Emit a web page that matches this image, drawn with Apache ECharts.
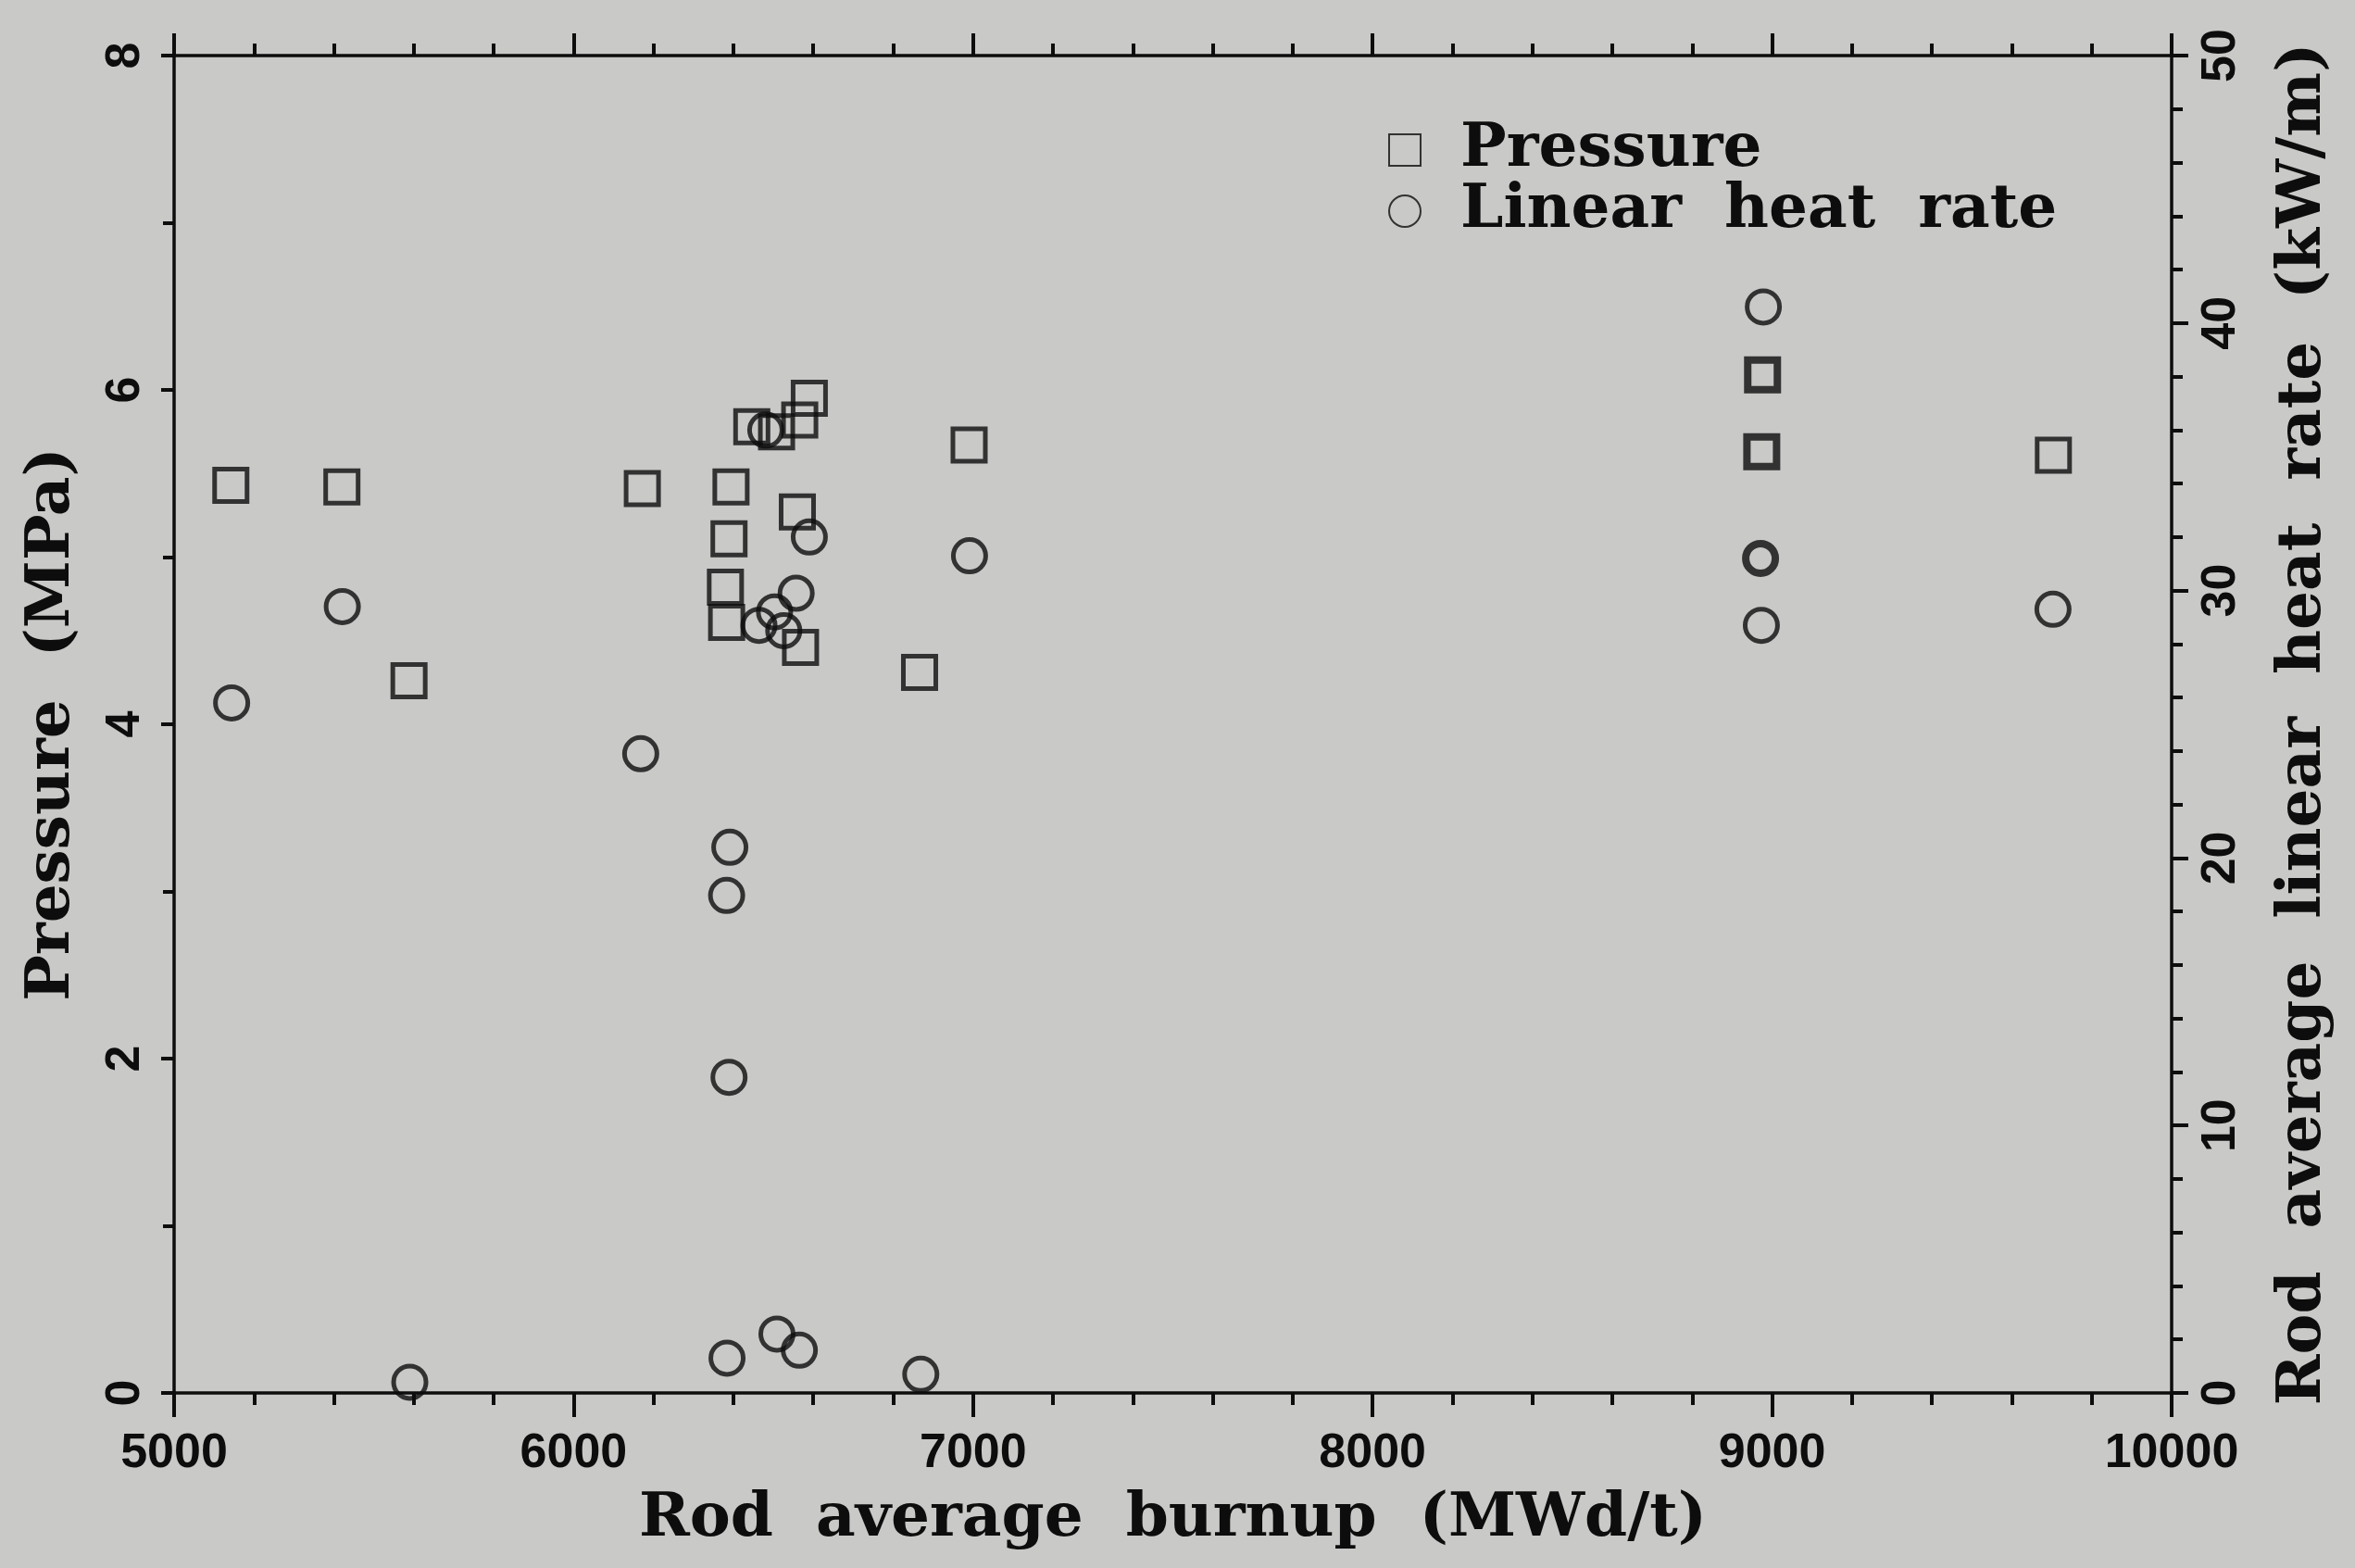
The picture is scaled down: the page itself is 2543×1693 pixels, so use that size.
<!DOCTYPE html>
<html>
<head>
<meta charset="utf-8">
<script src="https://cdn.jsdelivr.net/npm/echarts@6/dist/echarts.min.js"></script>
<style>
  html, body { margin: 0; padding: 0; background: #c9c9c7; }
  #chart { width: 2543px; height: 1693px; }
</style>
</head>
<body>
<div id="chart"></div>
<script>
// ---- Data ----
const pressureBurnup = [5142, 5420, 5588, 6172, 6394, 6389, 6380, 6383, 6446, 6508, 6566, 6590, 6560, 6568, 6866, 6990, 8976, 8974, 9704];
const pressureMPa    = [5.43, 5.42, 4.26, 5.41, 5.42, 5.11, 4.82, 4.61, 5.78, 5.75, 5.82, 5.95, 5.27, 4.46, 4.31, 5.67, 6.09, 5.63, 5.61];
const heatBurnup     = [5144, 5421, 5590, 6168, 6391, 6383, 6389, 6384, 6509, 6565, 6869, 6481, 6590, 6557, 6464, 6503, 6526, 6991, 8978, 8971, 8973, 9703];
const heatRate       = [25.8, 29.4, 0.4, 23.9, 20.4, 18.6, 11.8, 1.3, 2.2, 1.6, 0.7, 36.0, 32.0, 29.9, 28.7, 29.2, 28.5, 31.3, 40.6, 31.2, 28.7, 29.3];
// points drawn with a heavier outline in the reference
const pressureBoldIdx = [16, 17];
const heatBoldIdx     = [19];

const xTicks = { min: 5000, max: 10000, step: 1000 };
const yLeft  = { min: 0, max: 8, step: 2 };
const yRight = { min: 0, max: 50, step: 10 };

const INK = '#0d0d0d';
const SERIF = "'DejaVu Serif', 'Liberation Serif', serif";
const SANS = "'Liberation Sans', Arial, sans-serif";

function buildPoints(xs, ys, boldIdx) {
  return xs.map((x, i) => {
    const item = { value: [x, ys[i]] };
    if (boldIdx.indexOf(i) >= 0) {
      item.itemStyle = { borderWidth: 8 };
      item.symbolSize = 32;
    }
    return item;
  });
}

const chart = echarts.init(document.getElementById('chart'), null, { renderer: 'canvas' });

const plainNum = v => String(v);

const xAxisCommon = {
  type: 'value',
  min: xTicks.min, max: xTicks.max, interval: xTicks.step,
  splitLine: { show: false },
  minorSplitLine: { show: false }
};

chart.setOption({
  backgroundColor: '#c9c9c7',
  animation: false,
  grid: { left: 188, right: 198, top: 60, bottom: 189, containLabel: false },
  legend: {
    orient: 'vertical',
    left: 1494,
    top: 124,
    itemWidth: 34,
    itemHeight: 34,
    itemGap: 0,
    selectedMode: false,
    textStyle: { fontFamily: SERIF, fontWeight: 'bold', fontSize: 66, color: INK, padding: [0, 0, 0, 38] },
    data: ['Pressure', 'Linear  heat  rate']
  },
  xAxis: [
    Object.assign({}, xAxisCommon, {
      position: 'bottom',
      name: 'Rod  average  burnup  (MWd/t)',
      nameLocation: 'middle',
      nameGap: 104,
      nameTextStyle: { fontFamily: SERIF, fontWeight: 'bold', fontSize: 66, color: INK },
      axisLine: { show: true, onZero: false, lineStyle: { color: INK, width: 3.5 } },
      axisTick: { show: true, length: 26, lineStyle: { color: INK, width: 4 } },
      minorTick: { show: true, splitNumber: 5, length: 13, lineStyle: { color: INK, width: 4 } },
      axisLabel: { show: true, margin: 40, formatter: plainNum, fontFamily: SANS, fontWeight: 'bold', fontSize: 52, color: INK }
    }),
    Object.assign({}, xAxisCommon, {
      position: 'top',
      axisLine: { show: true, onZero: false, lineStyle: { color: INK, width: 3.5 } },
      axisTick: { show: true, length: 24, lineStyle: { color: INK, width: 4 } },
      minorTick: { show: true, splitNumber: 5, length: 13, lineStyle: { color: INK, width: 4 } },
      axisLabel: { show: false }
    })
  ],
  yAxis: [
    {
      type: 'value', position: 'left',
      min: yLeft.min, max: yLeft.max, interval: yLeft.step,
      name: 'Pressure  (MPa)',
      nameLocation: 'middle', nameRotate: 90, nameGap: 98,
      nameTextStyle: { fontFamily: SERIF, fontWeight: 'bold', fontSize: 66, color: INK },
      axisLine: { show: true, onZero: false, lineStyle: { color: INK, width: 3.5 } },
      axisTick: { show: true, length: 14, lineStyle: { color: INK, width: 4 } },
      minorTick: { show: true, splitNumber: 2, length: 12, lineStyle: { color: INK, width: 4 } },
      splitLine: { show: false },
      axisLabel: { show: true, rotate: 90, margin: 26, formatter: plainNum, fontFamily: SANS, fontWeight: 'bold', fontSize: 52, color: INK }
    },
    {
      type: 'value', position: 'right',
      min: yRight.min, max: yRight.max, interval: yRight.step,
      name: 'Rod  average  linear  heat  rate  (kW/m)',
      nameLocation: 'middle', nameRotate: 90, nameGap: 110,
      nameTextStyle: { fontFamily: SERIF, fontWeight: 'bold', fontSize: 66, color: INK },
      axisLine: { show: true, onZero: false, lineStyle: { color: INK, width: 3.5 } },
      axisTick: { show: true, length: 18, lineStyle: { color: INK, width: 4 } },
      minorTick: { show: true, splitNumber: 5, length: 12, lineStyle: { color: INK, width: 4 } },
      splitLine: { show: false },
      axisLabel: { show: true, rotate: 90, margin: 28, formatter: plainNum, fontFamily: SANS, fontWeight: 'bold', fontSize: 52, color: INK }
    }
  ],
  series: [
    {
      name: 'Pressure',
      type: 'scatter',
      xAxisIndex: 0, yAxisIndex: 0,
      symbol: 'rect',
      symbolSize: 35,
      itemStyle: { color: 'rgba(0,0,0,0)', borderColor: INK, borderWidth: 5 },
      data: buildPoints(pressureBurnup, pressureMPa, pressureBoldIdx)
    },
    {
      name: 'Linear  heat  rate',
      type: 'scatter',
      xAxisIndex: 0, yAxisIndex: 1,
      symbol: 'circle',
      symbolSize: 35,
      itemStyle: { color: 'rgba(0,0,0,0)', borderColor: INK, borderWidth: 5 },
      data: buildPoints(heatBurnup, heatRate, heatBoldIdx)
    }
  ]
});
</script>
</body>
</html>
